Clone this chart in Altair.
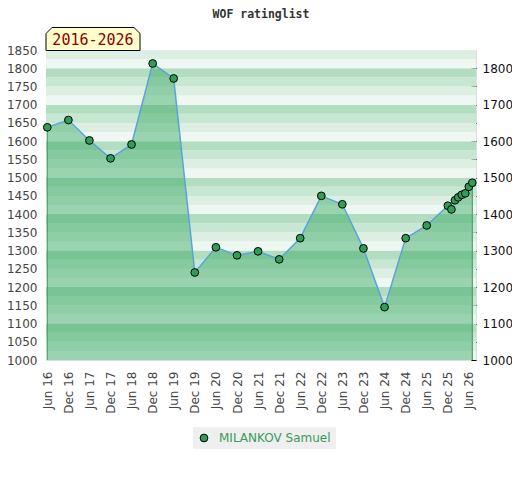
import altair as alt
import pandas as pd

title_text = "WOF ratinglist"
period_label = "2016-2026"
player = "MILANKOV Samuel"

dates = [
    "2016-06-01", "2016-12-01", "2017-06-01", "2017-12-01", "2018-06-01",
    "2018-12-01", "2019-06-01", "2019-12-01", "2020-06-01", "2020-12-01",
    "2021-06-01", "2021-12-01", "2022-06-01", "2022-12-01", "2023-06-01",
    "2023-12-01", "2024-06-01", "2024-12-01", "2025-06-01", "2025-12-01",
    "2026-01-01", "2026-02-01", "2026-03-01", "2026-04-01", "2026-05-01",
    "2026-06-01", "2026-07-01",
]
ratings = [
    1638, 1658, 1602, 1553, 1591, 1813, 1772, 1240, 1309, 1287,
    1298, 1276, 1334, 1450, 1427, 1306, 1145, 1334, 1369, 1423,
    1413, 1438, 1446, 1453, 1457, 1475, 1486,
]
left_ticks = list(range(1000, 1851, 50))
right_ticks = list(range(1000, 1801, 50))
x_tick_dates = [(y, m) for y in range(2016, 2027) for m in (6, 12) if not (y == 2026 and m == 12)]

df = pd.DataFrame({
    "date": [d + "T00:00:00" for d in dates],
    "rating": ratings,
    "player": [player] * len(dates),
})
edges = df.iloc[[0, len(df) - 1]]

band_colors = ["#eff7f2", "#dcefe2", "#c7e7d2", "#b3ddc1"]
bands = pd.DataFrame({"lo": list(range(1000, 1850, 25))})
bands["hi"] = bands["lo"] + 25
bands["shade"] = (bands["lo"] % 100) // 25

yscale = alt.Scale(domain=[1000, 1850], zero=False, nice=False)
xscale = alt.Scale(domain=[alt.DateTime(year=2016, month=5, date=21),
                           alt.DateTime(year=2026, month=8, date=2)])

x_axis = alt.Axis(
    values=[alt.DateTime(year=y, month=m, date=1) for y, m in x_tick_dates],
    format="%b %y", labelAngle=270, ticks=False, tickSize=0, domain=False, grid=False,
    labelPadding=11, labelFontSize=12, labelColor="#444444", labelFont="DejaVu Sans",
    title=None, labelOverlap=False,
)
left_axis = alt.Axis(
    values=left_ticks, format="d", ticks=False, tickSize=0, domain=False, grid=False,
    labelPadding=9, labelFontSize=12, labelColor="#444444", labelFont="DejaVu Sans",
    title=None,
)
right_axis = alt.Axis(
    orient="right", values=right_ticks, format="d", ticks=True, tickSize=5, tickColor="#000000",
    offset=-5, domain=False, grid=False, labelPadding=6, labelFontSize=12,
    labelColor="#111111", labelFont="DejaVu Sans", title=None,
    labelExpr="datum.value % 100 == 0 ? datum.label : ''",
)

band_layer = alt.Chart(bands).mark_rect().encode(
    x=alt.value(0), x2=alt.value(430),
    y=alt.Y("lo:Q", scale=yscale, axis=left_axis),
    y2="hi:Q",
    color=alt.Color("shade:O", scale=alt.Scale(domain=[0, 1, 2, 3], range=band_colors), legend=None),
)

base = alt.Chart(df).encode(x=alt.X("date:T", scale=xscale, axis=x_axis))

area = base.mark_area(color="#34a75f", opacity=0.45).encode(
    y=alt.Y("rating:Q", scale=yscale, axis=None),
    y2=alt.datum(1000),
)
edge_rules = alt.Chart(edges).mark_rule(color="#3a9a5a", strokeWidth=1).encode(
    x=alt.X("date:T", scale=xscale, axis=x_axis),
    y=alt.Y("rating:Q", scale=yscale, axis=None),
    y2=alt.datum(1000),
)
line = base.mark_line(color="#5ba3dc", strokeWidth=1.5).encode(
    y=alt.Y("rating:Q", scale=yscale, axis=None),
)
points = base.mark_point(filled=True, size=60, stroke="#000000", strokeWidth=1, opacity=1).encode(
    y=alt.Y("rating:Q", scale=yscale, axis=right_axis),
    fill=alt.Fill("player:N", scale=alt.Scale(range=["#2f9e57"]),
                  legend=alt.Legend(title=None, orient="none", legendX=147, legendY=377,
                                    fillColor="#efefef", padding=5, symbolType="circle",
                                    symbolSize=60, symbolStrokeColor="#000000",
                                    symbolStrokeWidth=1, labelColor="#3a9a5a",
                                    labelFontSize=12, labelFont="DejaVu Sans",
                                    labelOffset=9)),
)

box_shape = "M-1,0.245L-1,-0.117L-0.872,-0.245L0.872,-0.245L1,-0.117L1,0.245Z"
lab_df = pd.DataFrame({"label": [period_label], "title": [title_text]})
box = alt.Chart(lab_df).mark_point(shape=box_shape, size=8836, filled=True, fill="#ffffcc",
                                    stroke="#000000", strokeWidth=1, opacity=1).encode(
    x=alt.value(47), y=alt.value(-11))
box_text = alt.Chart(lab_df).mark_text(font="DejaVu Sans Mono", fontSize=15, color="#8b0000",
                                       align="center", baseline="middle").encode(
    x=alt.value(47), y=alt.value(-10), text="label:N")
title_mark = alt.Chart(lab_df).mark_text(font="DejaVu Sans Mono", fontSize=11.5, fontWeight="bold",
                                         color="#333333", align="center", baseline="middle").encode(
    x=alt.value(215), y=alt.value(-35), text="title:N")

chart = alt.layer(band_layer, area, edge_rules, line, points, box, box_text, title_mark).resolve_scale(
    y="shared").resolve_axis(y="independent").properties(
    width=430, height=310,
    autosize=alt.AutoSizeParams(type="none"),
    padding={"left": 38, "top": 42, "right": 36, "bottom": 100},
).configure_view(stroke="#d0d0d0", strokeWidth=1.5).configure(background="#ffffff")

chart.save("out.html", embed_options={"renderer": "svg", "actions": False})
